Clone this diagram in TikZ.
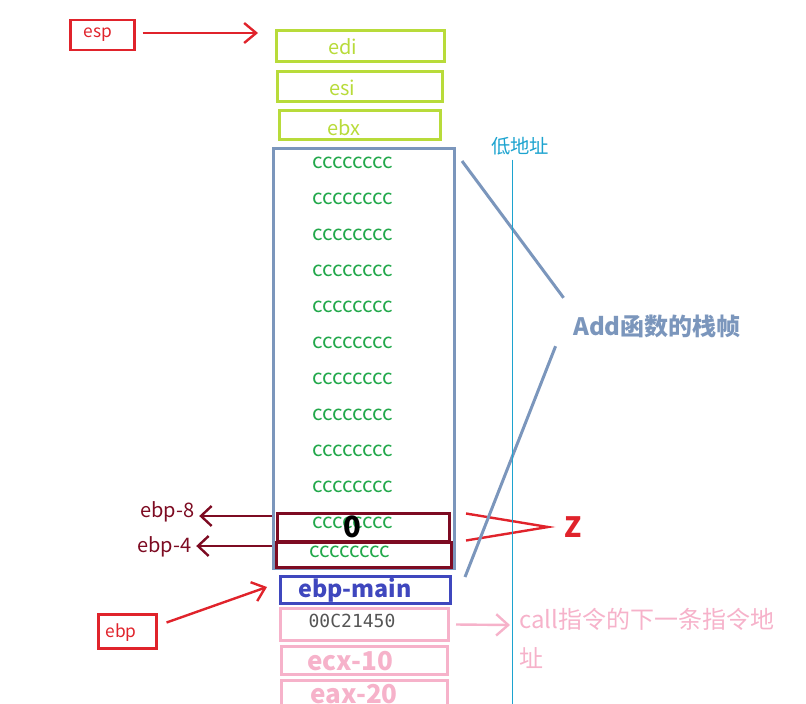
\documentclass[tikz,border=0pt]{standalone}
\usepackage{fontspec}
\setmainfont{Noto Sans CJK SC}
\newfontfamily\monofont{DejaVu Sans Mono}
\usetikzlibrary{arrows.meta}
\definecolor{StackRed}{HTML}{E0232B}
\definecolor{StackLime}{HTML}{B8DB3A}
\definecolor{StackSteel}{HTML}{7B96BC}
\definecolor{StackGreen}{HTML}{22A84B}
\definecolor{StackMaroon}{HTML}{7D0B22}
\definecolor{StackBlue}{HTML}{3F47BE}
\definecolor{StackPink}{HTML}{F6B2CA}
\definecolor{StackCyan}{HTML}{1CA3CF}
\definecolor{StackGray}{HTML}{555555}

\begin{document}
\begin{tikzpicture}[x=0.75pt,y=-0.75pt,
    ptrbox/.style={draw=StackRed,line width=1.6pt,inner sep=0pt},
    regbox/.style={draw=StackLime,line width=2.25pt,inner sep=0pt},
    varbox/.style={draw=StackMaroon,line width=2.25pt,inner sep=0pt},
    retbox/.style={draw=StackPink,line width=2.25pt,inner sep=0pt},
    ptrtext/.style={text=StackRed,font=\fontsize{13}{15}\selectfont},
    regtext/.style={text=StackLime,font=\fontsize{15}{17}\selectfont},
    fill/.style={text=StackGreen,font=\fontsize{15.5}{17}\selectfont},
    offtext/.style={text=StackMaroon,font=\fontsize{15}{17}\selectfont},
    pinktext/.style={text=StackPink,font=\fontsize{19.5}{22}\selectfont\bfseries},
    redarrow/.style={-{Straight Barb[length=9pt,width=15pt]},line width=1.8pt,draw=StackRed},
    darrow/.style={-{Straight Barb[length=8pt,width=15pt]},line width=1.8pt,draw=StackMaroon},
    pinkarrow/.style={-{Straight Barb[length=9pt,width=16pt]},line width=1.8pt,draw=StackPink},
    brace/.style={line width=2.25pt,draw=StackSteel},
    zline/.style={line width=1.8pt,draw=StackRed}
  ]
    \clip (0,0) rectangle (806,703);
    \node[ptrbox,minimum width=48pt,minimum height=22.5pt] (espbox) at (102.5,35) {};
    \node[ptrtext] (esp) at (98,35) {esp};
    \coordinate (esptip) at (258,33);
    \draw[redarrow] ([shift={(7,-2)}]espbox.east) -- (esptip);

    \node[regbox,minimum width=126pt,minimum height=23.25pt] (edibox) at (360.5,46) {};
    \node[regbox,minimum width=123.75pt,minimum height=22.5pt] (esibox) at (360,86.5) {};
    \node[regbox,minimum width=120.75pt,minimum height=21.75pt] (ebxbox) at (360,125) {};
    \node[regtext] (edi) at (343,47) {edi};
    \node[regtext] (esi) at (342,88) {esi};
    \node[regtext] (ebx) at (344,128) {ebx};

    \node[draw=StackSteel,line width=2.25pt,inner sep=0pt,minimum width=135.75pt,minimum height=315pt] (frame) at (364,358.5) {};
    \node[varbox,minimum width=129pt,minimum height=21pt] (b8) at (363.5,527) {};
    \node[varbox,minimum width=131.25pt,minimum height=18.75pt] (b4) at (364,554.5) {};
    \foreach \i in {0,...,10}
      \node[fill] (c\i) at (352.5,163+36*\i) {cccccccc};
    \node[fill] (c11) at (350,552) {cccccccc};
    \node[font=\fontsize{22}{24}\selectfont\bfseries] (zero) at (352,527) {0};

    \node[offtext] (l8) at (167.5,512) {ebp-8};
    \node[offtext] (l4) at (164.5,547) {ebp-4};
    \draw[darrow] (frame.west |- 0,516) -- (l8.east |- 0,516);
    \draw[darrow] (frame.west |- 0,546) -- (l4.east |- 0,546);

    \node[text=StackRed,font=\fontsize{21}{24}\selectfont\bfseries] (zlbl) at (573,527) {Z};
    \draw[zline] ([shift={(15,2)}]b8.north east) -- ([shift={(-25,0)}]zlbl.center) -- ([shift={(13,0)}]b4.north east);

    \node[text=StackSteel,font=\fontsize{18}{20}\selectfont\bfseries] (addlbl) at (657,326) {Add函数的栈帧};
    \draw[brace] ([shift={(6,14)}]frame.north east) -- ([shift={(-5,-12)}]addlbl.north west);
    \draw[brace] ([shift={(-13,4)}]addlbl.south west) -- ([shift={(9,7)}]frame.south east);

    \node[text=StackCyan,font=\fontsize{14.5}{16}\selectfont] (lowaddr) at (520,146) {低地址};
    \draw[StackCyan,line width=0.8pt] (lowaddr.south -| 512.5,0) -- ++(0,560);

    \node[draw=StackBlue,line width=2.25pt,inner sep=0pt,minimum width=127.5pt,minimum height=20.25pt] (mainbox) at (365.5,590) {};
    \node[text=StackBlue,font=\fontsize{17.5}{20}\selectfont\bfseries] (ebpmain) at (355,590) {ebp-main};
    \node[retbox,minimum width=126pt,minimum height=24pt] (retbox) at (364.5,624.5) {};
    \node[retbox,minimum width=124.5pt,minimum height=21pt] (ecxbox) at (364.5,660.5) {};
    \node[retbox,minimum width=124.5pt,minimum height=22.5pt] (eaxbox) at (364.5,695) {};
    \node[text=StackGray,font=\monofont\fontsize{13.5}{16}\selectfont] (retaddr) at (352,621) {00C21450};
    \node[pinktext] (ecx) at (350,661) {ecx-10};
    \node[pinktext] (eax) at (354,694) {eax-20};

    \node[text=StackPink,font=\fontsize{18}{29}\selectfont,align=left,anchor=north west,inner sep=0pt] (calltxt) at (519,608) {call指令的下一条指令地\\址};
    \draw[pinkarrow] ([shift={(6,0)}]retbox.east) -- ([shift={(-9,17)}]calltxt.north west);

    \node[ptrbox,minimum width=43.5pt,minimum height=25.5pt] (ebpbox) at (127.5,631.5) {};
    \node[ptrtext] (ebp) at (121,633) {ebp};
    \coordinate (ebptip) at (267,587);
    \draw[redarrow] ([shift={(9,-9)}]ebpbox.east) -- (ebptip);
  \end{tikzpicture}
\end{document}
